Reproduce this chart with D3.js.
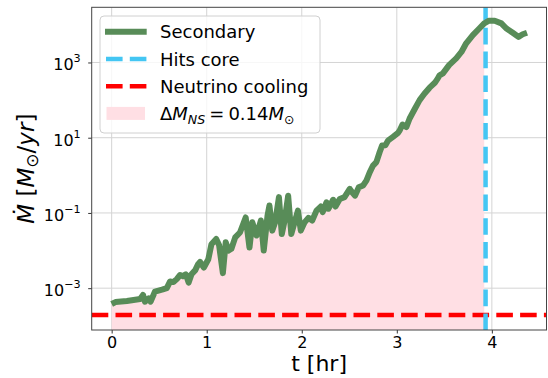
<!DOCTYPE html>
<html>
<head>
<meta charset="utf-8">
<script src="https://cdn.jsdelivr.net/npm/d3@7"></script>
<style>
  html, body { margin: 0; padding: 0; background: #fff; }
  svg { display: block; font-family: "DejaVu Sans", sans-serif; }
</style>
</head>
<body>
<svg id="chart" width="548" height="378"></svg>
<script>
// ---- data ----
const tHr = [0.00,0.04,0.16,0.30,0.33,0.35,0.39,0.41,0.455,0.53,0.58,0.615,0.65,0.685,0.72,0.75,0.78,0.81,0.84,0.88,0.91,0.93,0.97,1.017,1.05,1.10,1.13,1.17,1.20,1.23,1.26,1.30,1.35,1.41,1.45,1.48,1.525,1.57,1.60,1.64,1.66,1.69,1.72,1.76,1.79,1.82,1.857,1.89,1.93,1.96,1.99,2.03,2.07,2.11,2.155,2.20,2.22,2.26,2.28,2.33,2.355,2.40,2.45,2.505,2.53,2.56,2.60,2.645,2.68,2.715,2.75,2.785,2.82,2.845,2.88,2.91,2.96,3.01,3.03,3.06,3.10,3.135,3.19,3.24,3.29,3.345,3.40,3.43,3.45,3.485,3.55,3.625,3.68,3.73,3.80,3.87,3.92,3.97,4.03,4.10,4.15,4.22,4.28,4.325,4.37];
const mdot = [3.80e-4,4.27e-4,4.57e-4,5.13e-4,6.61e-4,4.37e-4,5.37e-4,4.37e-4,8.13e-4,9.12e-4,1.00e-3,1.51e-3,1.45e-3,1.74e-3,2.24e-3,2.09e-3,2.34e-3,1.41e-3,2.34e-3,3.02e-3,4.37e-3,5.01e-3,3.55e-3,5.89e-3,1.48e-2,2.04e-2,1.41e-2,2.51e-3,1.66e-2,1.00e-2,1.12e-2,2.24e-2,3.02e-2,7.59e-2,1.20e-2,5.62e-2,2.51e-2,6.31e-2,1.00e-2,8.51e-2,0.158,3.39e-2,5.62e-2,0.263,2.75e-2,6.31e-2,0.288,2.75e-2,6.31e-2,0.115,3.39e-2,5.62e-2,7.41e-2,6.31e-2,0.115,0.148,0.105,0.191,0.129,0.224,0.148,0.234,0.263,0.437,0.355,0.288,0.479,0.537,0.724,1.20,1.82,2.24,4.17,6.17,6.31,8.51,10.5,13.2,15.5,22.4,19.1,32.4,58.9,100,148,214,288,372,457,513,851,1290,1905,3236,5370,8128,10965,12882,12882,10965,8128,6166,4786,5623,6166];
const hitsCore = 3.934;        // hr
const neutrinoCooling = 1.95e-4; // Msun/yr
const xTicks = [0, 1, 2, 3, 4];
const yTicks = [1e-3, 1e-1, 1e1, 1e3];
const yTickExp = ["\u22123", "\u22121", "1", "3"];
const legendLabels = ["Secondary", "Hits core", "Neutrino cooling"];

// ---- layout ----
const svg = d3.select("#chart");
const L = 91.7, R = 546.5, T = 7.3, B = 330;
const x = d3.scaleLinear().domain([-0.21, 4.575]).range([L, R]);
const y = d3.scaleLog().domain([Math.pow(10, -4.112), Math.pow(10, 4.467)]).range([B, T]);

const data = tHr.map((t, i) => ({ t, m: mdot[i] }));

const cGreen = "#588c58", cCyan = "#44c6f3", cRed = "#ff0000", cPink = "#ffdfe4", cGrid = "#d4d4d4";

svg.append("defs").append("clipPath").attr("id", "clip")
  .append("rect").attr("x", L).attr("y", T).attr("width", R - L).attr("height", B - T);

// grid
const grid = svg.append("g");
grid.selectAll(".gx").data(xTicks).join("line")
  .attr("x1", d => x(d)).attr("x2", d => x(d)).attr("y1", T).attr("y2", B)
  .attr("stroke", cGrid).attr("stroke-width", 1);
grid.selectAll(".gy").data(yTicks).join("line")
  .attr("y1", d => y(d)).attr("y2", d => y(d)).attr("x1", L).attr("x2", R)
  .attr("stroke", cGrid).attr("stroke-width", 1);

const plot = svg.append("g").attr("clip-path", "url(#clip)");

// fill
const area = d3.area().x(d => x(d.t)).y0(B + 5).y1(d => y(d.m));
plot.append("path").datum(data.filter(d => d.t <= 3.92))
  .attr("d", area).attr("fill", cPink).attr("stroke", "none");

// neutrino cooling
plot.append("line")
  .attr("x1", L).attr("x2", R).attr("y1", y(neutrinoCooling)).attr("y2", y(neutrinoCooling))
  .attr("stroke", cRed).attr("stroke-width", 4.5).attr("stroke-dasharray", "16.6 7.2");

// hits core (drawn from bottom upward)
plot.append("line")
  .attr("x1", x(hitsCore)).attr("x2", x(hitsCore)).attr("y1", B).attr("y2", T)
  .attr("stroke", cCyan).attr("stroke-width", 4.5).attr("stroke-dasharray", "16.6 7.2");

// secondary line
const line = d3.line().x(d => x(d.t)).y(d => y(d.m));
plot.append("path").datum(data).attr("d", line)
  .attr("fill", "none").attr("stroke", cGreen).attr("stroke-width", 6)
  .attr("stroke-linejoin", "round").attr("stroke-linecap", "butt");

// axes
const xAxis = svg.append("g").attr("transform", `translate(0,${B})`)
  .call(d3.axisBottom(x).tickValues(xTicks).tickFormat(d3.format("d")).tickSize(3.5).tickPadding(3.5));
xAxis.selectAll("text").attr("font-size", 16).attr("font-family", "DejaVu Sans").attr("fill", "#000");

const yAxis = svg.append("g").attr("transform", `translate(${L},0)`)
  .call(d3.axisLeft(y).tickValues(yTicks).tickFormat("").tickSize(3.5));
yAxis.selectAll(".tick").each(function(d, i) {
  const t = d3.select(this).append("text")
    .attr("x", -11).attr("y", 7.5).attr("text-anchor", "end")
    .attr("font-size", 16).attr("fill", "#000").attr("font-family", "DejaVu Sans");
  t.append("tspan").text("10");
  t.append("tspan").attr("font-size", 11.2).attr("dy", -8).text(yTickExp[i]);
});
[xAxis, yAxis].forEach(a => {
  a.select(".domain").remove();
  a.selectAll(".tick line").attr("stroke", "#333").attr("stroke-width", 1);
});

// spines
svg.append("rect").attr("x", L).attr("y", T).attr("width", R - L).attr("height", B - T)
  .attr("fill", "none").attr("stroke", "#444").attr("stroke-width", 1);

// axis labels
svg.append("text").attr("x", (L + R) / 2).attr("y", 371).attr("text-anchor", "middle")
  .attr("font-size", 22).text("t [hr]");

const yl = svg.append("text").attr("transform", `translate(34,${(T + B) / 2}) rotate(-90)`)
  .attr("text-anchor", "middle").attr("font-size", 23);
yl.append("tspan").attr("font-style", "italic").text("\u1E40");
yl.append("tspan").text(" [");
yl.append("tspan").attr("font-style", "italic").text("M");
yl.append("tspan").attr("font-size", 17).attr("dy", 4).text("\u2299");
yl.append("tspan").attr("dy", -4).text("/");
yl.append("tspan").attr("font-style", "italic").text("yr");
yl.append("tspan").text("]");

// legend
const lg = svg.append("g");
lg.append("rect").attr("x", 100).attr("y", 16).attr("width", 220).attr("height", 117).attr("rx", 4)
  .attr("fill", "#fff").attr("fill-opacity", 0.8).attr("stroke", "#d0d0d0").attr("stroke-width", 1);
const rows = [31.7, 59, 86.2, 113.4];
lg.append("line").attr("x1", 105).attr("x2", 146.7).attr("y1", rows[0]).attr("y2", rows[0])
  .attr("stroke", cGreen).attr("stroke-width", 6);
lg.append("line").attr("x1", 106).attr("x2", 146.7).attr("y1", rows[1]).attr("y2", rows[1])
  .attr("stroke", cCyan).attr("stroke-width", 4.5).attr("stroke-dasharray", "16.6 7.2");
lg.append("line").attr("x1", 106).attr("x2", 146.7).attr("y1", rows[2]).attr("y2", rows[2])
  .attr("stroke", cRed).attr("stroke-width", 4.5).attr("stroke-dasharray", "16.6 7.2");
lg.append("rect").attr("x", 106.5).attr("y", rows[3] - 6.5).attr("width", 38.5).attr("height", 13)
  .attr("fill", cPink);
legendLabels.forEach((s, i) => {
  lg.append("text").attr("x", 160).attr("y", rows[i] + 6.5).attr("font-size", 18).text(s);
});
const mt = lg.append("text").attr("x", 160).attr("y", rows[3] + 6.5).attr("font-size", 18);
mt.append("tspan").text("\u0394");
mt.append("tspan").attr("font-style", "italic").text("M");
mt.append("tspan").attr("font-style", "italic").attr("font-size", 12.6).attr("dy", 4).text("NS");
mt.append("tspan").attr("dy", -4).attr("dx", 4).text("=");
mt.append("tspan").attr("dx", 4).text("0.14");
mt.append("tspan").attr("font-style", "italic").text("M");
mt.append("tspan").attr("font-size", 12.6).attr("dy", 4).text("\u2299");
</script>
</body>
</html>
